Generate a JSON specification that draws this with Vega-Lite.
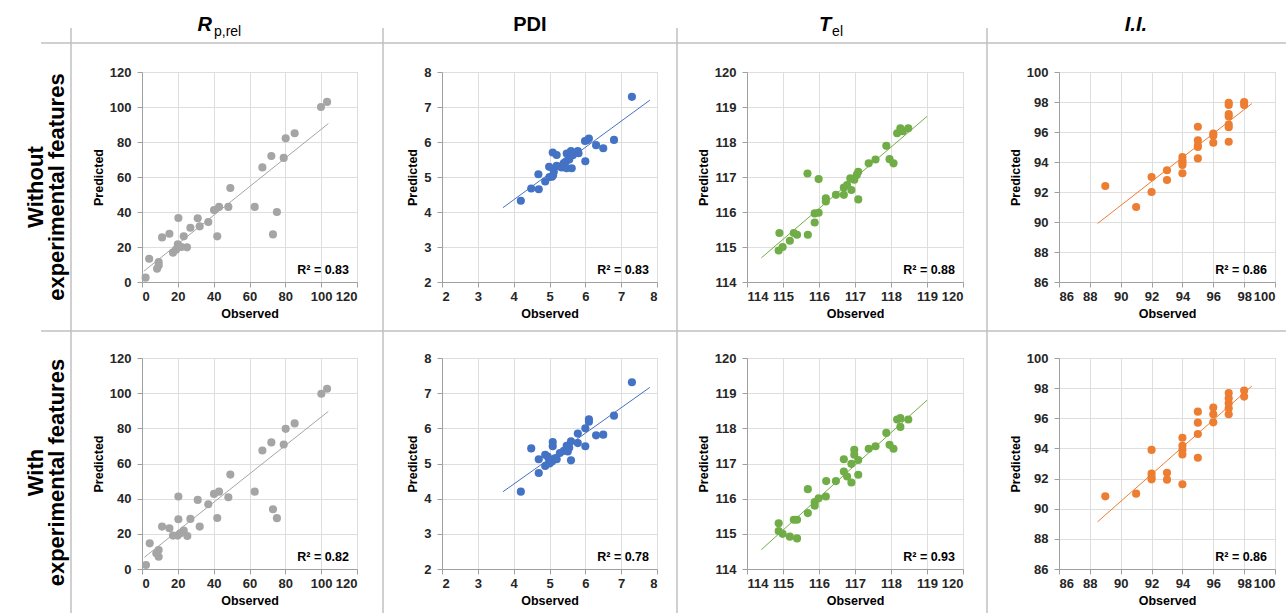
{
"$schema": "https://vega.github.io/schema/vega-lite/v6.json",
"padding": 0,
"background": "white",
"datasets": {
"rp1": [{"obs":2,"pred":2.5},{"obs":4,"pred":13.3},{"obs":8.4,"pred":7.6},{"obs":9.3,"pred":9.5},{"obs":9.3,"pred":11.4},{"obs":11.2,"pred":25.5},{"obs":15.3,"pred":27.6},{"obs":17.3,"pred":16.8},{"obs":19,"pred":18.5},{"obs":20,"pred":21.5},{"obs":22,"pred":20},{"obs":20.3,"pred":36.6},{"obs":23.3,"pred":26.1},{"obs":25.1,"pred":19.8},{"obs":27,"pred":31},{"obs":31.1,"pred":36.4},{"obs":32.2,"pred":31.8},{"obs":37,"pred":34.3},{"obs":40.2,"pred":41.1},{"obs":43,"pred":42.9},{"obs":42,"pred":26.1},{"obs":48.2,"pred":42.9},{"obs":49.3,"pred":53.7},{"obs":62.9,"pred":42.9},{"obs":67.2,"pred":65.5},{"obs":72.2,"pred":72},{"obs":73.1,"pred":27.2},{"obs":75.3,"pred":40},{"obs":79.1,"pred":70.9},{"obs":80.2,"pred":82.1},{"obs":85.2,"pred":85},{"obs":99.9,"pred":100},{"obs":103.3,"pred":102.9}],
"pdi1": [{"obs":4.2,"pred":4.32},{"obs":4.49,"pred":4.67},{"obs":4.7,"pred":4.65},{"obs":4.69,"pred":5.08},{"obs":4.88,"pred":4.87},{"obs":4.99,"pred":5.29},{"obs":5.07,"pred":5.01},{"obs":5.09,"pred":5.7},{"obs":5.2,"pred":5.63},{"obs":5.12,"pred":5.15},{"obs":5.2,"pred":5.32},{"obs":5.34,"pred":5.27},{"obs":5.46,"pred":5.44},{"obs":5.48,"pred":5.67},{"obs":5.54,"pred":5.56},{"obs":5.6,"pred":5.74},{"obs":5.62,"pred":5.25},{"obs":5.48,"pred":5.25},{"obs":5.79,"pred":5.74},{"obs":5.81,"pred":5.68},{"obs":6.0,"pred":5.45},{"obs":5.99,"pred":6.03},{"obs":6.1,"pred":6.1},{"obs":6.3,"pred":5.91},{"obs":6.5,"pred":5.82},{"obs":6.8,"pred":6.06},{"obs":7.3,"pred":7.29},{"obs":5.0,"pred":5.0},{"obs":5.1,"pred":5.05},{"obs":5.3,"pred":5.3},{"obs":5.4,"pred":5.4},{"obs":5.55,"pred":5.5},{"obs":5.65,"pred":5.62},{"obs":6.05,"pred":6.05}],
"tel1": [{"obs":114.9,"pred":115.4},{"obs":114.88,"pred":114.9},{"obs":114.99,"pred":115.0},{"obs":115.19,"pred":115.18},{"obs":115.3,"pred":115.4},{"obs":115.39,"pred":115.35},{"obs":115.69,"pred":115.35},{"obs":115.68,"pred":117.1},{"obs":115.88,"pred":115.7},{"obs":115.88,"pred":115.96},{"obs":115.99,"pred":115.98},{"obs":115.99,"pred":116.94},{"obs":116.19,"pred":116.39},{"obs":116.19,"pred":116.3},{"obs":116.47,"pred":116.49},{"obs":116.69,"pred":116.49},{"obs":116.69,"pred":116.7},{"obs":116.78,"pred":116.77},{"obs":116.9,"pred":116.63},{"obs":116.87,"pred":116.96},{"obs":116.98,"pred":116.92},{"obs":117.05,"pred":117.06},{"obs":117.09,"pred":117.15},{"obs":117.09,"pred":116.36},{"obs":117.38,"pred":117.39},{"obs":117.57,"pred":117.5},{"obs":117.87,"pred":117.89},{"obs":117.96,"pred":117.51},{"obs":118.07,"pred":117.39},{"obs":118.17,"pred":118.25},{"obs":118.26,"pred":118.39},{"obs":118.48,"pred":118.39},{"obs":118.33,"pred":118.31}],
"ii1": [{"obs":89,"pred":92.4},{"obs":91,"pred":91},{"obs":92,"pred":93},{"obs":92,"pred":92},{"obs":93,"pred":93.45},{"obs":93,"pred":92.8},{"obs":94,"pred":93.25},{"obs":94,"pred":93.8},{"obs":94,"pred":94.1},{"obs":94,"pred":94.33},{"obs":94,"pred":93.95},{"obs":95,"pred":94.24},{"obs":95,"pred":95},{"obs":95,"pred":95.44},{"obs":95,"pred":96.35},{"obs":95,"pred":95.1},{"obs":96,"pred":95.28},{"obs":96,"pred":95.9},{"obs":96,"pred":95.75},{"obs":97,"pred":95.35},{"obs":97,"pred":96.32},{"obs":97,"pred":96.5},{"obs":97,"pred":97.03},{"obs":97,"pred":97.2},{"obs":97,"pred":97.8},{"obs":97,"pred":97.95},{"obs":98,"pred":98},{"obs":98,"pred":97.8}],
"rp2": [{"obs":2.2,"pred":2.3},{"obs":4.3,"pred":14.6},{"obs":8,"pred":8.9},{"obs":9.3,"pred":7},{"obs":9.3,"pred":10.8},{"obs":11.2,"pred":24.1},{"obs":15.3,"pred":23.2},{"obs":17.3,"pred":19},{"obs":19.9,"pred":19},{"obs":20.3,"pred":28.3},{"obs":20.3,"pred":41.2},{"obs":21.4,"pred":20.3},{"obs":23.3,"pred":21.8},{"obs":25.3,"pred":18.8},{"obs":27,"pred":28.5},{"obs":31.1,"pred":39.3},{"obs":32.2,"pred":24.1},{"obs":37,"pred":36.8},{"obs":40.2,"pred":42.7},{"obs":43,"pred":44},{"obs":42,"pred":29},{"obs":48.2,"pred":40.8},{"obs":49.3,"pred":53.7},{"obs":62.9,"pred":44},{"obs":67.2,"pred":67.4},{"obs":72.2,"pred":72},{"obs":73.1,"pred":34},{"obs":75.3,"pred":28.9},{"obs":79.1,"pred":70.8},{"obs":80.2,"pred":79.7},{"obs":85.2,"pred":82.8},{"obs":100.1,"pred":99.7},{"obs":103.3,"pred":102.5}],
"pdi2": [{"obs":4.2,"pred":4.2},{"obs":4.49,"pred":5.43},{"obs":4.7,"pred":4.73},{"obs":4.7,"pred":5.12},{"obs":4.88,"pred":5.25},{"obs":4.88,"pred":4.93},{"obs":4.99,"pred":5.12},{"obs":5.09,"pred":5.61},{"obs":5.09,"pred":5.49},{"obs":5.07,"pred":5.06},{"obs":5.2,"pred":5.12},{"obs":5.29,"pred":5.3},{"obs":5.4,"pred":5.36},{"obs":5.48,"pred":5.5},{"obs":5.51,"pred":5.34},{"obs":5.6,"pred":5.63},{"obs":5.6,"pred":5.09},{"obs":5.79,"pred":5.85},{"obs":5.79,"pred":5.58},{"obs":6,"pred":6},{"obs":6,"pred":5.49},{"obs":6.1,"pred":6.26},{"obs":6.1,"pred":6.19},{"obs":6.3,"pred":5.8},{"obs":6.5,"pred":5.82},{"obs":6.8,"pred":6.36},{"obs":7.3,"pred":7.31},{"obs":4.95,"pred":5.2},{"obs":5.15,"pred":5.15},{"obs":5.0,"pred":5.0},{"obs":5.55,"pred":5.45}],
"tel2": [{"obs":114.88,"pred":115.3},{"obs":114.88,"pred":115.08},{"obs":114.99,"pred":115.0},{"obs":115.19,"pred":114.92},{"obs":115.39,"pred":114.87},{"obs":115.3,"pred":115.4},{"obs":115.39,"pred":115.4},{"obs":115.69,"pred":116.27},{"obs":115.69,"pred":115.59},{"obs":115.88,"pred":115.8},{"obs":115.88,"pred":115.9},{"obs":115.99,"pred":116.01},{"obs":116.19,"pred":116.06},{"obs":116.2,"pred":116.5},{"obs":116.47,"pred":116.5},{"obs":116.69,"pred":117.12},{"obs":116.69,"pred":116.77},{"obs":116.78,"pred":116.63},{"obs":116.9,"pred":116.46},{"obs":116.9,"pred":116.99},{"obs":116.98,"pred":117.39},{"obs":116.98,"pred":117.25},{"obs":117.09,"pred":117.1},{"obs":117.09,"pred":116.68},{"obs":117.38,"pred":117.42},{"obs":117.57,"pred":117.49},{"obs":117.87,"pred":117.87},{"obs":117.96,"pred":117.53},{"obs":118.07,"pred":117.42},{"obs":118.17,"pred":118.25},{"obs":118.26,"pred":118.29},{"obs":118.26,"pred":118.04},{"obs":118.48,"pred":118.25}],
"ii2": [{"obs":89,"pred":90.82},{"obs":91,"pred":91},{"obs":92,"pred":93.9},{"obs":92,"pred":92.33},{"obs":92,"pred":92.1},{"obs":92,"pred":91.95},{"obs":93,"pred":92.38},{"obs":93,"pred":91.93},{"obs":94,"pred":91.62},{"obs":94,"pred":93.6},{"obs":94,"pred":93.89},{"obs":94,"pred":94.18},{"obs":94,"pred":94.71},{"obs":95,"pred":93.38},{"obs":95,"pred":94.96},{"obs":95,"pred":95.71},{"obs":95,"pred":96.44},{"obs":96,"pred":95.73},{"obs":96,"pred":96.27},{"obs":96,"pred":96.71},{"obs":97,"pred":96.27},{"obs":97,"pred":96.67},{"obs":97,"pred":97},{"obs":97,"pred":97.33},{"obs":97,"pred":97.67},{"obs":98,"pred":97.44},{"obs":98,"pred":97.84}]
},
"columns": 10,
"spacing": 0,
"bounds": "flush",
"align": "each",
"concat": [
 {"width": 41, "height": 28, "data": {"values": []}, "mark": "point"},
 {"width": 101, "height": 28, "data": {"values": []}, "mark": "point"},
 {"width": 215, "height": 28, "data": {"values": [{"main": "R", "sub": "p,rel"}]}, "layer": [
  {"mark": {"type": "text", "align": "right", "baseline": "alphabetic", "fontSize": 20, "fontWeight": "bold", "fontStyle": "italic", "dx": -1, "dy": 3, "color": "#000000"},
   "encoding": {"x": {"datum": 0.33, "type": "quantitative", "scale": {"domain": [0, 1]}, "axis": null}, "y": {"datum": 0, "type": "quantitative", "scale": {"domain": [0, 1]}, "axis": null}, "text": {"field": "main"}}},
  {"mark": {"type": "text", "align": "left", "baseline": "alphabetic", "fontSize": 14, "dx": 1, "dy": 8, "color": "#000000"},
   "encoding": {"x": {"datum": 0.33, "type": "quantitative", "scale": {"domain": [0, 1]}, "axis": null}, "y": {"datum": 0, "type": "quantitative", "scale": {"domain": [0, 1]}, "axis": null}, "text": {"field": "sub"}}}
 ]},
 {"width": 85, "height": 28, "data": {"values": []}, "mark": "point"},
 {"width": 215, "height": 28, "data": {"values": [{"main": "PDI"}]},
  "mark": {"type": "text", "align": "center", "baseline": "alphabetic", "fontSize": 20, "fontWeight": "bold", "dy": 3, "color": "#000000"},
  "encoding": {"x": {"datum": 0.409, "type": "quantitative", "scale": {"domain": [0, 1]}, "axis": null}, "y": {"datum": 0, "type": "quantitative", "scale": {"domain": [0, 1]}, "axis": null}, "text": {"field": "main"}}},
 {"width": 90, "height": 28, "data": {"values": []}, "mark": "point"},
 {"width": 216, "height": 28, "data": {"values": [{"main": "T", "sub": "el"}]}, "layer": [
  {"mark": {"type": "text", "align": "right", "baseline": "alphabetic", "fontSize": 20, "fontWeight": "bold", "fontStyle": "italic", "dx": -1, "dy": 3, "color": "#000000"},
   "encoding": {"x": {"datum": 0.394, "type": "quantitative", "scale": {"domain": [0, 1]}, "axis": null}, "y": {"datum": 0, "type": "quantitative", "scale": {"domain": [0, 1]}, "axis": null}, "text": {"field": "main"}}},
  {"mark": {"type": "text", "align": "left", "baseline": "alphabetic", "fontSize": 14, "dx": 0, "dy": 8, "color": "#000000"},
   "encoding": {"x": {"datum": 0.394, "type": "quantitative", "scale": {"domain": [0, 1]}, "axis": null}, "y": {"datum": 0, "type": "quantitative", "scale": {"domain": [0, 1]}, "axis": null}, "text": {"field": "sub"}}}
 ]},
 {"width": 96, "height": 28, "data": {"values": []}, "mark": "point"},
 {"width": 216, "height": 28, "data": {"values": [{"main": "I.I."}]},
  "mark": {"type": "text", "align": "center", "baseline": "alphabetic", "fontSize": 20, "fontWeight": "bold", "fontStyle": "italic", "dy": 3, "color": "#000000"},
  "encoding": {"x": {"datum": 0.356, "type": "quantitative", "scale": {"domain": [0, 1]}, "axis": null}, "y": {"datum": 0, "type": "quantitative", "scale": {"domain": [0, 1]}, "axis": null}, "text": {"field": "main"}}},
 {"width": 11, "height": 28, "data": {"values": []}, "mark": "point"},

 {"width": 41, "height": 44, "data": {"values": []}, "mark": "point"},
 {"width": 101, "height": 44, "data": {"values": [{}]}, "layer": [
  {"mark": {"type": "rule", "color": "#c0c0c0", "strokeWidth": 1.5}, "encoding": {"x": {"datum": 0.297, "type": "quantitative", "scale": {"domain": [0, 1]}, "axis": null}}},
  {"mark": {"type": "rule", "color": "#c0c0c0", "strokeWidth": 1.5}, "encoding": {"y": {"datum": 0.659, "type": "quantitative", "scale": {"domain": [0, 1]}, "axis": null}}}]},
 {"width": 215, "height": 44, "data": {"values": [{}]}, "mark": {"type": "rule", "color": "#c0c0c0", "strokeWidth": 1.5}, "encoding": {"y": {"datum": 0.659, "type": "quantitative", "scale": {"domain": [0, 1]}, "axis": null}}},
 {"width": 85, "height": 44, "data": {"values": [{}]}, "layer": [
  {"mark": {"type": "rule", "color": "#c0c0c0", "strokeWidth": 1.5}, "encoding": {"x": {"datum": 0.306, "type": "quantitative", "scale": {"domain": [0, 1]}, "axis": null}}},
  {"mark": {"type": "rule", "color": "#c0c0c0", "strokeWidth": 1.5}, "encoding": {"y": {"datum": 0.659, "type": "quantitative", "scale": {"domain": [0, 1]}, "axis": null}}}]},
 {"width": 215, "height": 44, "data": {"values": [{}]}, "mark": {"type": "rule", "color": "#c0c0c0", "strokeWidth": 1.5}, "encoding": {"y": {"datum": 0.659, "type": "quantitative", "scale": {"domain": [0, 1]}, "axis": null}}},
 {"width": 90, "height": 44, "data": {"values": [{}]}, "layer": [
  {"mark": {"type": "rule", "color": "#c0c0c0", "strokeWidth": 1.5}, "encoding": {"x": {"datum": 0.222, "type": "quantitative", "scale": {"domain": [0, 1]}, "axis": null}}},
  {"mark": {"type": "rule", "color": "#c0c0c0", "strokeWidth": 1.5}, "encoding": {"y": {"datum": 0.659, "type": "quantitative", "scale": {"domain": [0, 1]}, "axis": null}}}]},
 {"width": 216, "height": 44, "data": {"values": [{}]}, "mark": {"type": "rule", "color": "#c0c0c0", "strokeWidth": 1.5}, "encoding": {"y": {"datum": 0.659, "type": "quantitative", "scale": {"domain": [0, 1]}, "axis": null}}},
 {"width": 96, "height": 44, "data": {"values": [{}]}, "layer": [
  {"mark": {"type": "rule", "color": "#c0c0c0", "strokeWidth": 1.5}, "encoding": {"x": {"datum": 0.25, "type": "quantitative", "scale": {"domain": [0, 1]}, "axis": null}}},
  {"mark": {"type": "rule", "color": "#c0c0c0", "strokeWidth": 1.5}, "encoding": {"y": {"datum": 0.659, "type": "quantitative", "scale": {"domain": [0, 1]}, "axis": null}}}]},
 {"width": 216, "height": 44, "data": {"values": [{}]}, "mark": {"type": "rule", "color": "#c0c0c0", "strokeWidth": 1.5}, "encoding": {"y": {"datum": 0.659, "type": "quantitative", "scale": {"domain": [0, 1]}, "axis": null}}},
 {"width": 11, "height": 44, "data": {"values": [{}]}, "mark": {"type": "rule", "color": "#c0c0c0", "strokeWidth": 1.5}, "encoding": {"y": {"datum": 0.659, "type": "quantitative", "scale": {"domain": [0, 1]}, "axis": null}}},

 {"width": 41, "height": 210, "data": {"values": [{"label": "Without\nexperimental features"}]},
  "mark": {"type": "text", "angle": 270, "align": "center", "baseline": "middle", "fontSize": 22, "fontWeight": "bold", "lineBreak": "\n", "lineHeight": 21, "color": "#000000"},
  "encoding": {"x": {"datum": 0.878, "type": "quantitative", "scale": {"domain": [0, 1]}, "axis": null}, "y": {"datum": 0.452, "type": "quantitative", "scale": {"domain": [0, 1]}, "axis": null}, "text": {"field": "label"}}},
 {"width": 101, "height": 210, "data": {"values": [{}]}, "mark": {"type": "rule", "color": "#c0c0c0", "strokeWidth": 1.5}, "encoding": {"x": {"datum": 0.297, "type": "quantitative", "scale": {"domain": [0, 1]}, "axis": null}}},
 {"width": 215, "height": 210, "view": {"stroke": "#b4b4b4"}, "data": {"name": "rp1"},
  "layer": [
   {"mark": {"type": "point", "filled": true, "size": 66, "opacity": 1, "color": "#A5A5A5"},
    "encoding": {"x": {"field": "obs", "type": "quantitative", "title": "Observed", "scale": {"domain": [0, 120], "nice": false, "zero": false}, "axis": {"values": [0, 20, 40, 60, 80, 100, 120]}},
                 "y": {"field": "pred", "type": "quantitative", "title": "Predicted", "scale": {"domain": [0, 120], "nice": false, "zero": false}, "axis": {"values": [0, 20, 40, 60, 80, 100, 120]}}}},
   {"transform": [{"regression": "pred", "on": "obs", "extent": [1, 104]}], "mark": {"type": "line", "color": "#A5A5A5", "strokeWidth": 1},
    "encoding": {"x": {"field": "obs", "type": "quantitative", "title": "Observed", "scale": {"domain": [0, 120], "nice": false, "zero": false}, "axis": {"values": [0, 20, 40, 60, 80, 100, 120]}},
                 "y": {"field": "pred", "type": "quantitative", "title": "Predicted", "scale": {"domain": [0, 120], "nice": false, "zero": false}, "axis": {"values": [0, 20, 40, 60, 80, 100, 120]}}}},
   {"data": {"values": [{"label": "R² = 0.83"}]}, "mark": {"type": "text", "align": "right", "baseline": "alphabetic", "dx": -8, "dy": -8, "fontSize": 12.5, "fontWeight": "bold", "color": "#000000"},
    "encoding": {"x": {"datum": 120, "type": "quantitative", "title": "Observed", "scale": {"domain": [0, 120], "nice": false, "zero": false}, "axis": {"values": [0, 20, 40, 60, 80, 100, 120]}},
                 "y": {"datum": 0, "type": "quantitative", "title": "Predicted", "scale": {"domain": [0, 120], "nice": false, "zero": false}, "axis": {"values": [0, 20, 40, 60, 80, 100, 120]}}, "text": {"field": "label"}}}
  ]},
 {"width": 85, "height": 210, "data": {"values": [{}]}, "mark": {"type": "rule", "color": "#c0c0c0", "strokeWidth": 1.5}, "encoding": {"x": {"datum": 0.306, "type": "quantitative", "scale": {"domain": [0, 1]}, "axis": null}}},
 {"width": 215, "height": 210, "view": {"stroke": "#b4b4b4"}, "data": {"name": "pdi1"},
  "layer": [
   {"mark": {"type": "point", "filled": true, "size": 66, "opacity": 1, "color": "#4472C4"},
    "encoding": {"x": {"field": "obs", "type": "quantitative", "title": "Observed", "scale": {"domain": [2, 8], "nice": false, "zero": false}, "axis": {"values": [2, 3, 4, 5, 6, 7, 8]}},
                 "y": {"field": "pred", "type": "quantitative", "title": "Predicted", "scale": {"domain": [2, 8], "nice": false, "zero": false}, "axis": {"values": [2, 3, 4, 5, 6, 7, 8]}}}},
   {"transform": [{"regression": "pred", "on": "obs", "extent": [3.7, 7.8]}], "mark": {"type": "line", "color": "#4472C4", "strokeWidth": 1},
    "encoding": {"x": {"field": "obs", "type": "quantitative", "title": "Observed", "scale": {"domain": [2, 8], "nice": false, "zero": false}, "axis": {"values": [2, 3, 4, 5, 6, 7, 8]}},
                 "y": {"field": "pred", "type": "quantitative", "title": "Predicted", "scale": {"domain": [2, 8], "nice": false, "zero": false}, "axis": {"values": [2, 3, 4, 5, 6, 7, 8]}}}},
   {"data": {"values": [{"label": "R² = 0.83"}]}, "mark": {"type": "text", "align": "right", "baseline": "alphabetic", "dx": -8, "dy": -8, "fontSize": 12.5, "fontWeight": "bold", "color": "#000000"},
    "encoding": {"x": {"datum": 8, "type": "quantitative", "title": "Observed", "scale": {"domain": [2, 8], "nice": false, "zero": false}, "axis": {"values": [2, 3, 4, 5, 6, 7, 8]}},
                 "y": {"datum": 2, "type": "quantitative", "title": "Predicted", "scale": {"domain": [2, 8], "nice": false, "zero": false}, "axis": {"values": [2, 3, 4, 5, 6, 7, 8]}}, "text": {"field": "label"}}}
  ]},
 {"width": 90, "height": 210, "data": {"values": [{}]}, "mark": {"type": "rule", "color": "#c0c0c0", "strokeWidth": 1.5}, "encoding": {"x": {"datum": 0.222, "type": "quantitative", "scale": {"domain": [0, 1]}, "axis": null}}},
 {"width": 216, "height": 210, "view": {"stroke": "#b4b4b4"}, "data": {"name": "tel1"},
  "layer": [
   {"mark": {"type": "point", "filled": true, "size": 66, "opacity": 1, "color": "#70AD47"},
    "encoding": {"x": {"field": "obs", "type": "quantitative", "title": "Observed", "scale": {"domain": [114, 120], "nice": false, "zero": false}, "axis": {"values": [114, 115, 116, 117, 118, 119, 120]}},
                 "y": {"field": "pred", "type": "quantitative", "title": "Predicted", "scale": {"domain": [114, 120], "nice": false, "zero": false}, "axis": {"values": [114, 115, 116, 117, 118, 119, 120]}}}},
   {"transform": [{"regression": "pred", "on": "obs", "extent": [114.4, 119]}], "mark": {"type": "line", "color": "#70AD47", "strokeWidth": 1},
    "encoding": {"x": {"field": "obs", "type": "quantitative", "title": "Observed", "scale": {"domain": [114, 120], "nice": false, "zero": false}, "axis": {"values": [114, 115, 116, 117, 118, 119, 120]}},
                 "y": {"field": "pred", "type": "quantitative", "title": "Predicted", "scale": {"domain": [114, 120], "nice": false, "zero": false}, "axis": {"values": [114, 115, 116, 117, 118, 119, 120]}}}},
   {"data": {"values": [{"label": "R² = 0.88"}]}, "mark": {"type": "text", "align": "right", "baseline": "alphabetic", "dx": -8, "dy": -8, "fontSize": 12.5, "fontWeight": "bold", "color": "#000000"},
    "encoding": {"x": {"datum": 120, "type": "quantitative", "title": "Observed", "scale": {"domain": [114, 120], "nice": false, "zero": false}, "axis": {"values": [114, 115, 116, 117, 118, 119, 120]}},
                 "y": {"datum": 114, "type": "quantitative", "title": "Predicted", "scale": {"domain": [114, 120], "nice": false, "zero": false}, "axis": {"values": [114, 115, 116, 117, 118, 119, 120]}}, "text": {"field": "label"}}}
  ]},
 {"width": 96, "height": 210, "data": {"values": [{}]}, "mark": {"type": "rule", "color": "#c0c0c0", "strokeWidth": 1.5}, "encoding": {"x": {"datum": 0.25, "type": "quantitative", "scale": {"domain": [0, 1]}, "axis": null}}},
 {"width": 216, "height": 210, "view": {"stroke": "#b4b4b4"}, "data": {"name": "ii1"},
  "layer": [
   {"mark": {"type": "point", "filled": true, "size": 66, "opacity": 1, "color": "#ED7D31"},
    "encoding": {"x": {"field": "obs", "type": "quantitative", "title": "Observed", "scale": {"domain": [86, 100], "nice": false, "zero": false}, "axis": {"values": [86, 88, 90, 92, 94, 96, 98, 100]}},
                 "y": {"field": "pred", "type": "quantitative", "title": "Predicted", "scale": {"domain": [86, 100], "nice": false, "zero": false}, "axis": {"values": [86, 88, 90, 92, 94, 96, 98, 100]}}}},
   {"transform": [{"regression": "pred", "on": "obs", "extent": [88.5, 98.5]}], "mark": {"type": "line", "color": "#ED7D31", "strokeWidth": 1},
    "encoding": {"x": {"field": "obs", "type": "quantitative", "title": "Observed", "scale": {"domain": [86, 100], "nice": false, "zero": false}, "axis": {"values": [86, 88, 90, 92, 94, 96, 98, 100]}},
                 "y": {"field": "pred", "type": "quantitative", "title": "Predicted", "scale": {"domain": [86, 100], "nice": false, "zero": false}, "axis": {"values": [86, 88, 90, 92, 94, 96, 98, 100]}}}},
   {"data": {"values": [{"label": "R² = 0.86"}]}, "mark": {"type": "text", "align": "right", "baseline": "alphabetic", "dx": -8, "dy": -8, "fontSize": 12.5, "fontWeight": "bold", "color": "#000000"},
    "encoding": {"x": {"datum": 100, "type": "quantitative", "title": "Observed", "scale": {"domain": [86, 100], "nice": false, "zero": false}, "axis": {"values": [86, 88, 90, 92, 94, 96, 98, 100]}},
                 "y": {"datum": 86, "type": "quantitative", "title": "Predicted", "scale": {"domain": [86, 100], "nice": false, "zero": false}, "axis": {"values": [86, 88, 90, 92, 94, 96, 98, 100]}}, "text": {"field": "label"}}}
  ]},
 {"width": 11, "height": 210, "data": {"values": []}, "mark": "point"},

 {"width": 41, "height": 76, "data": {"values": []}, "mark": "point"},
 {"width": 101, "height": 76, "data": {"values": [{}]}, "layer": [
  {"mark": {"type": "rule", "color": "#c0c0c0", "strokeWidth": 1.5}, "encoding": {"x": {"datum": 0.297, "type": "quantitative", "scale": {"domain": [0, 1]}, "axis": null}}},
  {"mark": {"type": "rule", "color": "#c0c0c0", "strokeWidth": 1.5}, "encoding": {"y": {"datum": 0.355, "type": "quantitative", "scale": {"domain": [0, 1]}, "axis": null}}}]},
 {"width": 215, "height": 76, "data": {"values": [{}]}, "mark": {"type": "rule", "color": "#c0c0c0", "strokeWidth": 1.5}, "encoding": {"y": {"datum": 0.355, "type": "quantitative", "scale": {"domain": [0, 1]}, "axis": null}}},
 {"width": 85, "height": 76, "data": {"values": [{}]}, "layer": [
  {"mark": {"type": "rule", "color": "#c0c0c0", "strokeWidth": 1.5}, "encoding": {"x": {"datum": 0.306, "type": "quantitative", "scale": {"domain": [0, 1]}, "axis": null}}},
  {"mark": {"type": "rule", "color": "#c0c0c0", "strokeWidth": 1.5}, "encoding": {"y": {"datum": 0.355, "type": "quantitative", "scale": {"domain": [0, 1]}, "axis": null}}}]},
 {"width": 215, "height": 76, "data": {"values": [{}]}, "mark": {"type": "rule", "color": "#c0c0c0", "strokeWidth": 1.5}, "encoding": {"y": {"datum": 0.355, "type": "quantitative", "scale": {"domain": [0, 1]}, "axis": null}}},
 {"width": 90, "height": 76, "data": {"values": [{}]}, "layer": [
  {"mark": {"type": "rule", "color": "#c0c0c0", "strokeWidth": 1.5}, "encoding": {"x": {"datum": 0.222, "type": "quantitative", "scale": {"domain": [0, 1]}, "axis": null}}},
  {"mark": {"type": "rule", "color": "#c0c0c0", "strokeWidth": 1.5}, "encoding": {"y": {"datum": 0.355, "type": "quantitative", "scale": {"domain": [0, 1]}, "axis": null}}}]},
 {"width": 216, "height": 76, "data": {"values": [{}]}, "mark": {"type": "rule", "color": "#c0c0c0", "strokeWidth": 1.5}, "encoding": {"y": {"datum": 0.355, "type": "quantitative", "scale": {"domain": [0, 1]}, "axis": null}}},
 {"width": 96, "height": 76, "data": {"values": [{}]}, "layer": [
  {"mark": {"type": "rule", "color": "#c0c0c0", "strokeWidth": 1.5}, "encoding": {"x": {"datum": 0.25, "type": "quantitative", "scale": {"domain": [0, 1]}, "axis": null}}},
  {"mark": {"type": "rule", "color": "#c0c0c0", "strokeWidth": 1.5}, "encoding": {"y": {"datum": 0.355, "type": "quantitative", "scale": {"domain": [0, 1]}, "axis": null}}}]},
 {"width": 216, "height": 76, "data": {"values": [{}]}, "mark": {"type": "rule", "color": "#c0c0c0", "strokeWidth": 1.5}, "encoding": {"y": {"datum": 0.355, "type": "quantitative", "scale": {"domain": [0, 1]}, "axis": null}}},
 {"width": 11, "height": 76, "data": {"values": [{}]}, "mark": {"type": "rule", "color": "#c0c0c0", "strokeWidth": 1.5}, "encoding": {"y": {"datum": 0.355, "type": "quantitative", "scale": {"domain": [0, 1]}, "axis": null}}},

 {"width": 41, "height": 211, "data": {"values": [{"label": "With\nexperimental features"}]},
  "mark": {"type": "text", "angle": 270, "align": "center", "baseline": "middle", "fontSize": 22, "fontWeight": "bold", "lineBreak": "\n", "lineHeight": 21, "color": "#000000"},
  "encoding": {"x": {"datum": 0.878, "type": "quantitative", "scale": {"domain": [0, 1]}, "axis": null}, "y": {"datum": 0.457, "type": "quantitative", "scale": {"domain": [0, 1]}, "axis": null}, "text": {"field": "label"}}},
 {"width": 101, "height": 211, "data": {"values": [{}]}, "mark": {"type": "rule", "color": "#c0c0c0", "strokeWidth": 1.5}, "encoding": {"x": {"datum": 0.297, "type": "quantitative", "scale": {"domain": [0, 1]}, "axis": null}}},
 {"width": 215, "height": 211, "view": {"stroke": "#b4b4b4"}, "data": {"name": "rp2"},
  "layer": [
   {"mark": {"type": "point", "filled": true, "size": 66, "opacity": 1, "color": "#A5A5A5"},
    "encoding": {"x": {"field": "obs", "type": "quantitative", "title": "Observed", "scale": {"domain": [0, 120], "nice": false, "zero": false}, "axis": {"values": [0, 20, 40, 60, 80, 100, 120]}},
                 "y": {"field": "pred", "type": "quantitative", "title": "Predicted", "scale": {"domain": [0, 120], "nice": false, "zero": false}, "axis": {"values": [0, 20, 40, 60, 80, 100, 120]}}}},
   {"transform": [{"regression": "pred", "on": "obs", "extent": [1.3, 104]}], "mark": {"type": "line", "color": "#A5A5A5", "strokeWidth": 1},
    "encoding": {"x": {"field": "obs", "type": "quantitative", "title": "Observed", "scale": {"domain": [0, 120], "nice": false, "zero": false}, "axis": {"values": [0, 20, 40, 60, 80, 100, 120]}},
                 "y": {"field": "pred", "type": "quantitative", "title": "Predicted", "scale": {"domain": [0, 120], "nice": false, "zero": false}, "axis": {"values": [0, 20, 40, 60, 80, 100, 120]}}}},
   {"data": {"values": [{"label": "R² = 0.82"}]}, "mark": {"type": "text", "align": "right", "baseline": "alphabetic", "dx": -8, "dy": -8, "fontSize": 12.5, "fontWeight": "bold", "color": "#000000"},
    "encoding": {"x": {"datum": 120, "type": "quantitative", "title": "Observed", "scale": {"domain": [0, 120], "nice": false, "zero": false}, "axis": {"values": [0, 20, 40, 60, 80, 100, 120]}},
                 "y": {"datum": 0, "type": "quantitative", "title": "Predicted", "scale": {"domain": [0, 120], "nice": false, "zero": false}, "axis": {"values": [0, 20, 40, 60, 80, 100, 120]}}, "text": {"field": "label"}}}
  ]},
 {"width": 85, "height": 211, "data": {"values": [{}]}, "mark": {"type": "rule", "color": "#c0c0c0", "strokeWidth": 1.5}, "encoding": {"x": {"datum": 0.306, "type": "quantitative", "scale": {"domain": [0, 1]}, "axis": null}}},
 {"width": 215, "height": 211, "view": {"stroke": "#b4b4b4"}, "data": {"name": "pdi2"},
  "layer": [
   {"mark": {"type": "point", "filled": true, "size": 66, "opacity": 1, "color": "#4472C4"},
    "encoding": {"x": {"field": "obs", "type": "quantitative", "title": "Observed", "scale": {"domain": [2, 8], "nice": false, "zero": false}, "axis": {"values": [2, 3, 4, 5, 6, 7, 8]}},
                 "y": {"field": "pred", "type": "quantitative", "title": "Predicted", "scale": {"domain": [2, 8], "nice": false, "zero": false}, "axis": {"values": [2, 3, 4, 5, 6, 7, 8]}}}},
   {"transform": [{"regression": "pred", "on": "obs", "extent": [3.7, 7.8]}], "mark": {"type": "line", "color": "#4472C4", "strokeWidth": 1},
    "encoding": {"x": {"field": "obs", "type": "quantitative", "title": "Observed", "scale": {"domain": [2, 8], "nice": false, "zero": false}, "axis": {"values": [2, 3, 4, 5, 6, 7, 8]}},
                 "y": {"field": "pred", "type": "quantitative", "title": "Predicted", "scale": {"domain": [2, 8], "nice": false, "zero": false}, "axis": {"values": [2, 3, 4, 5, 6, 7, 8]}}}},
   {"data": {"values": [{"label": "R² = 0.78"}]}, "mark": {"type": "text", "align": "right", "baseline": "alphabetic", "dx": -8, "dy": -8, "fontSize": 12.5, "fontWeight": "bold", "color": "#000000"},
    "encoding": {"x": {"datum": 8, "type": "quantitative", "title": "Observed", "scale": {"domain": [2, 8], "nice": false, "zero": false}, "axis": {"values": [2, 3, 4, 5, 6, 7, 8]}},
                 "y": {"datum": 2, "type": "quantitative", "title": "Predicted", "scale": {"domain": [2, 8], "nice": false, "zero": false}, "axis": {"values": [2, 3, 4, 5, 6, 7, 8]}}, "text": {"field": "label"}}}
  ]},
 {"width": 90, "height": 211, "data": {"values": [{}]}, "mark": {"type": "rule", "color": "#c0c0c0", "strokeWidth": 1.5}, "encoding": {"x": {"datum": 0.222, "type": "quantitative", "scale": {"domain": [0, 1]}, "axis": null}}},
 {"width": 216, "height": 211, "view": {"stroke": "#b4b4b4"}, "data": {"name": "tel2"},
  "layer": [
   {"mark": {"type": "point", "filled": true, "size": 66, "opacity": 1, "color": "#70AD47"},
    "encoding": {"x": {"field": "obs", "type": "quantitative", "title": "Observed", "scale": {"domain": [114, 120], "nice": false, "zero": false}, "axis": {"values": [114, 115, 116, 117, 118, 119, 120]}},
                 "y": {"field": "pred", "type": "quantitative", "title": "Predicted", "scale": {"domain": [114, 120], "nice": false, "zero": false}, "axis": {"values": [114, 115, 116, 117, 118, 119, 120]}}}},
   {"transform": [{"regression": "pred", "on": "obs", "extent": [114.4, 119]}], "mark": {"type": "line", "color": "#70AD47", "strokeWidth": 1},
    "encoding": {"x": {"field": "obs", "type": "quantitative", "title": "Observed", "scale": {"domain": [114, 120], "nice": false, "zero": false}, "axis": {"values": [114, 115, 116, 117, 118, 119, 120]}},
                 "y": {"field": "pred", "type": "quantitative", "title": "Predicted", "scale": {"domain": [114, 120], "nice": false, "zero": false}, "axis": {"values": [114, 115, 116, 117, 118, 119, 120]}}}},
   {"data": {"values": [{"label": "R² = 0.93"}]}, "mark": {"type": "text", "align": "right", "baseline": "alphabetic", "dx": -8, "dy": -8, "fontSize": 12.5, "fontWeight": "bold", "color": "#000000"},
    "encoding": {"x": {"datum": 120, "type": "quantitative", "title": "Observed", "scale": {"domain": [114, 120], "nice": false, "zero": false}, "axis": {"values": [114, 115, 116, 117, 118, 119, 120]}},
                 "y": {"datum": 114, "type": "quantitative", "title": "Predicted", "scale": {"domain": [114, 120], "nice": false, "zero": false}, "axis": {"values": [114, 115, 116, 117, 118, 119, 120]}}, "text": {"field": "label"}}}
  ]},
 {"width": 96, "height": 211, "data": {"values": [{}]}, "mark": {"type": "rule", "color": "#c0c0c0", "strokeWidth": 1.5}, "encoding": {"x": {"datum": 0.25, "type": "quantitative", "scale": {"domain": [0, 1]}, "axis": null}}},
 {"width": 216, "height": 211, "view": {"stroke": "#b4b4b4"}, "data": {"name": "ii2"},
  "layer": [
   {"mark": {"type": "point", "filled": true, "size": 66, "opacity": 1, "color": "#ED7D31"},
    "encoding": {"x": {"field": "obs", "type": "quantitative", "title": "Observed", "scale": {"domain": [86, 100], "nice": false, "zero": false}, "axis": {"values": [86, 88, 90, 92, 94, 96, 98, 100]}},
                 "y": {"field": "pred", "type": "quantitative", "title": "Predicted", "scale": {"domain": [86, 100], "nice": false, "zero": false}, "axis": {"values": [86, 88, 90, 92, 94, 96, 98, 100]}}}},
   {"transform": [{"regression": "pred", "on": "obs", "extent": [88.5, 98.5]}], "mark": {"type": "line", "color": "#ED7D31", "strokeWidth": 1},
    "encoding": {"x": {"field": "obs", "type": "quantitative", "title": "Observed", "scale": {"domain": [86, 100], "nice": false, "zero": false}, "axis": {"values": [86, 88, 90, 92, 94, 96, 98, 100]}},
                 "y": {"field": "pred", "type": "quantitative", "title": "Predicted", "scale": {"domain": [86, 100], "nice": false, "zero": false}, "axis": {"values": [86, 88, 90, 92, 94, 96, 98, 100]}}}},
   {"data": {"values": [{"label": "R² = 0.86"}]}, "mark": {"type": "text", "align": "right", "baseline": "alphabetic", "dx": -8, "dy": -8, "fontSize": 12.5, "fontWeight": "bold", "color": "#000000"},
    "encoding": {"x": {"datum": 100, "type": "quantitative", "title": "Observed", "scale": {"domain": [86, 100], "nice": false, "zero": false}, "axis": {"values": [86, 88, 90, 92, 94, 96, 98, 100]}},
                 "y": {"datum": 86, "type": "quantitative", "title": "Predicted", "scale": {"domain": [86, 100], "nice": false, "zero": false}, "axis": {"values": [86, 88, 90, 92, 94, 96, 98, 100]}}, "text": {"field": "label"}}}
  ]},
 {"width": 11, "height": 211, "data": {"values": []}, "mark": "point"},

 {"width": 41, "height": 44, "data": {"values": []}, "mark": "point"},
 {"width": 101, "height": 44, "data": {"values": [{}]}, "mark": {"type": "rule", "color": "#c0c0c0", "strokeWidth": 1.5}, "encoding": {"x": {"datum": 0.297, "type": "quantitative", "scale": {"domain": [0, 1]}, "axis": null}}},
 {"width": 215, "height": 44, "data": {"values": []}, "mark": "point"},
 {"width": 85, "height": 44, "data": {"values": [{}]}, "mark": {"type": "rule", "color": "#c0c0c0", "strokeWidth": 1.5}, "encoding": {"x": {"datum": 0.306, "type": "quantitative", "scale": {"domain": [0, 1]}, "axis": null}}},
 {"width": 215, "height": 44, "data": {"values": []}, "mark": "point"},
 {"width": 90, "height": 44, "data": {"values": [{}]}, "mark": {"type": "rule", "color": "#c0c0c0", "strokeWidth": 1.5}, "encoding": {"x": {"datum": 0.222, "type": "quantitative", "scale": {"domain": [0, 1]}, "axis": null}}},
 {"width": 216, "height": 44, "data": {"values": []}, "mark": "point"},
 {"width": 96, "height": 44, "data": {"values": [{}]}, "mark": {"type": "rule", "color": "#c0c0c0", "strokeWidth": 1.5}, "encoding": {"x": {"datum": 0.25, "type": "quantitative", "scale": {"domain": [0, 1]}, "axis": null}}},
 {"width": 216, "height": 44, "data": {"values": []}, "mark": "point"},
 {"width": 11, "height": 44, "data": {"values": []}, "mark": "point"}
],
"config": {
 "font": "Liberation Sans",
 "view": {"stroke": null},
 "axis": {"labelFont": "Liberation Sans", "labelFontSize": 13, "labelFontWeight": "bold", "labelColor": "#262626", "titleFont": "Liberation Sans", "titleFontSize": 12.5, "titleFontWeight": "bold", "titleColor": "#000000", "gridColor": "#dedede", "domainColor": "#a0a0a0", "tickColor": "#a0a0a0", "tickSize": 5, "titlePadding": 4},
 "axisX": {"labelPadding": 3},
 "axisY": {"labelPadding": 6}
}
}
